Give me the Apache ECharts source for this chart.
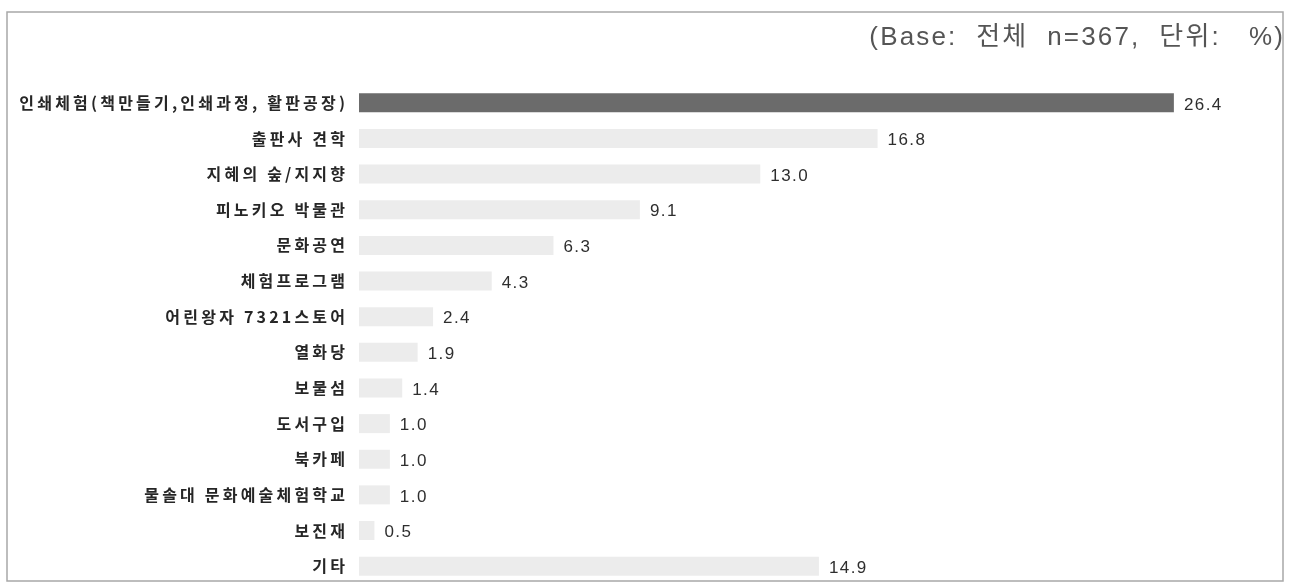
<!DOCTYPE html>
<html><head><meta charset="utf-8">
<script src="https://cdn.jsdelivr.net/npm/echarts@6/dist/echarts.min.js"></script>
<style>html,body{margin:0;padding:0;background:#fff}#c{width:1289px;height:584px}</style>
</head><body><div id="c"></div>
<script>
const categories = ['인쇄체험(책만들기,인쇄과정, 활판공장)','출판사 견학','지혜의 숲/지지향','피노키오 박물관','문화공연','체험프로그램','어린왕자 7321스토어','열화당','보물섬','도서구입','북카페','물솔대 문화예술체험학교','보진재','기타'];
const values = [26.4,16.8,13.0,9.1,6.3,4.3,2.4,1.9,1.4,1.0,1.0,1.0,0.5,14.9];
const subtitle = '(Base:  전체  n=367,  단위:   %)';

const spaced = (s, sp) => Array.from(s).join(sp);

const chart = echarts.init(document.getElementById('c'), null, {renderer:'canvas'});
chart.setOption({
  animation:false,
  backgroundColor:'#fff',
  graphic:[
    {type:'rect', shape:{x:7,y:12,width:1276,height:569}, style:{fill:'none', stroke:'#a8a8a8', lineWidth:1.5}, z:0},
    {type:'text', right:6, top:25, style:{text:spaced(subtitle,'\u200A'), font:'26px "Liberation Sans","Noto Sans CJK KR", sans-serif', fill:'#555'}}
  ],
  grid:{left:359, right:4, top:85, bottom:-2, containLabel:false},
  xAxis:{type:'value', min:0, max:30, show:false},
  yAxis:{type:'category', data:categories, inverse:true,
    axisLine:{show:false}, axisTick:{show:false},
    axisLabel:{margin:14, color:'#262626', fontSize:16, fontWeight:'bold', fontFamily:'"Noto Sans CJK KR", sans-serif',
      formatter: v => spaced(v,'\u2009')}},
  series:[{type:'bar', barWidth:19,
    data: values.map((v,i)=>({value:v, itemStyle:{color: i===0?'#6b6b6b':'#ececec'}})),
    label:{show:true, position:'right', distance:10, offset:[0,2], formatter:p=>spaced(p.value.toFixed(1),'\u200A'),
      color:'#2e2e2e', fontSize:17, fontFamily:'"Liberation Sans", Arial, sans-serif'}
  }]
});
</script></body></html>
